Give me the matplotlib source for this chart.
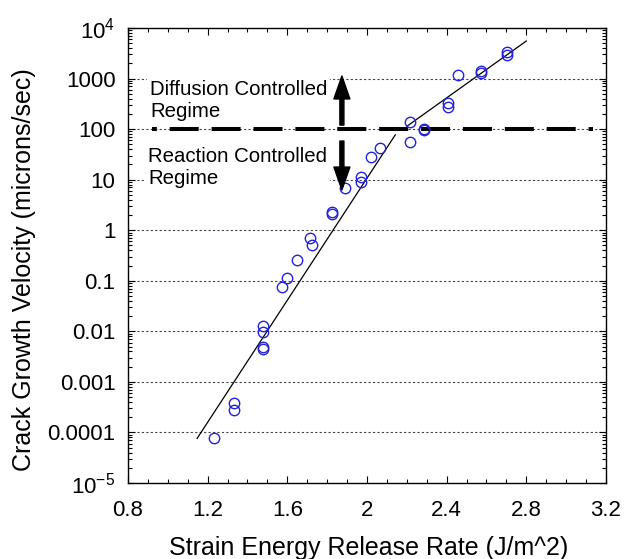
import matplotlib
matplotlib.use("Agg")
import matplotlib.pyplot as plt
import numpy as np
from matplotlib.ticker import LogLocator, MultipleLocator, NullFormatter

plt.rcParams['font.family'] = ['Liberation Sans', 'DejaVu Sans']
plt.rcParams['mathtext.fontset'] = 'custom'
plt.rcParams['mathtext.rm'] = 'Liberation Sans'
plt.rcParams['mathtext.it'] = 'Liberation Sans:italic'

# measured points (strain energy release rate, crack velocity)
G = [1.232, 1.332, 1.332, 1.478, 1.478, 1.478, 1.478, 1.573, 1.598, 1.647,
     1.714, 1.725, 1.823, 1.823, 1.889, 1.968, 1.968, 2.018, 2.065, 2.216,
     2.216, 2.286, 2.286, 2.408, 2.408, 2.458, 2.572, 2.572, 2.704, 2.704]
V = [7.8e-5, 3.9e-4, 2.8e-4, 0.0128, 0.0098, 0.0050, 0.0045, 0.0743, 0.112, 0.258,
     0.69, 0.51, 2.3, 2.1, 6.9, 11.1, 8.9, 28.5, 41.7, 136,
     56.5, 100, 96, 333, 278, 1175, 1400, 1300, 3300, 2920]

# fitted lines (end points)
fit1_x = [1.147, 2.142]
fit1_y = [7.6e-5, 77]
fit2_x = [2.202, 2.80]
fit2_y = [115, 5530]

# regime boundary
boundary_v = 100
boundary_x = [0.92, 3.134]

# arrows
arrow_x = 1.874
up_tail, up_tip = 120, 1122
down_tail, down_tip = 58, 6.25

xticks = [0.8, 1.2, 1.6, 2.0, 2.4, 2.8, 3.2]
xticklabels = ['0.8', '1.2', '1.6', '2', '2.4', '2.8', '3.2']
yticks = [1e-5, 1e-4, 1e-3, 1e-2, 1e-1, 1, 10, 100, 1000, 1e4]
yticklabels = ['$10^{-5}$', '0.0001', '0.001', '0.01', '0.1', '1', '10', '100', '1000', '$10^{4}$']
grid_levels = [1e-4, 1e-3, 1e-2, 1e-1, 1, 10, 100, 1000]

fig = plt.figure(figsize=(6.29, 5.59), dpi=100)
ax = fig.add_axes([0.2035, 0.136, 0.7599, 0.8139])

ax.set_yscale('log')
ax.set_xlim(0.8, 3.2)
ax.set_ylim(1e-5, 1e4)

# dotted grid lines at each decade
for lev in grid_levels:
    ax.axhline(lev, color='#444444', lw=0.8, ls=(0, (2, 2)), zorder=1)

# thick dashed boundary
ax.plot(boundary_x, [boundary_v, boundary_v], color='black', lw=2.9,
        ls=(6, (7.2, 3.2)), zorder=2)

# fit lines
ax.plot(fit1_x, fit1_y, color='black', lw=0.9, zorder=3)
ax.plot(fit2_x, fit2_y, color='black', lw=0.9, zorder=3)

# data
ax.plot(G, V, 'o', mfc='none', mec='#2222dd', mew=1.0, ms=7.5, zorder=4)

# labels for the regimes
box = dict(facecolor='white', edgecolor='none', pad=2)
ax.text(0.91, 938, 'Diffusion Controlled\nRegime', fontsize=14.7, ha='left',
        va='top', bbox=box, zorder=3.5, linespacing=1.2)
ax.text(0.90, 44.3, 'Reaction Controlled\nRegime', fontsize=14.7, ha='left',
        va='top', bbox=box, zorder=3.5, linespacing=1.2)

arr = dict(facecolor='black', edgecolor='black', width=2.9, headwidth=11.5,
           headlength=16.5, shrink=0)
ax.annotate('', xy=(arrow_x, up_tip), xytext=(arrow_x, up_tail), arrowprops=arr, zorder=5)
ax.annotate('', xy=(arrow_x, down_tip), xytext=(arrow_x, down_tail), arrowprops=arr, zorder=5)

# ticks
ax.set_xticks(xticks)
ax.set_xticklabels(xticklabels)
ax.xaxis.set_minor_locator(MultipleLocator(0.1))
ax.set_yticks(yticks)
ax.set_yticklabels(yticklabels)
ax.yaxis.set_minor_locator(LogLocator(base=10, subs=np.arange(2, 10), numticks=20))
ax.yaxis.set_minor_formatter(NullFormatter())
ax.tick_params(which='both', direction='in', top=True, right=True, width=0.8)
ax.tick_params(which='major', length=5, labelsize=16)
ax.tick_params(which='minor', length=3)
ax.tick_params(axis='y', which='major', pad=9)
ax.tick_params(axis='x', which='major', pad=12)

for sp in ax.spines.values():
    sp.set_linewidth(1.0)

ax.set_xlabel('Strain Energy Release Rate (J/m^2)', fontsize=18)
ax.set_ylabel('Crack Growth Velocity (microns/sec)', fontsize=18)
ax.xaxis.set_label_coords(0.503, -0.117)
ax.yaxis.set_label_coords(-0.192, 0.469)

fig.savefig('out.png', dpi=100)
